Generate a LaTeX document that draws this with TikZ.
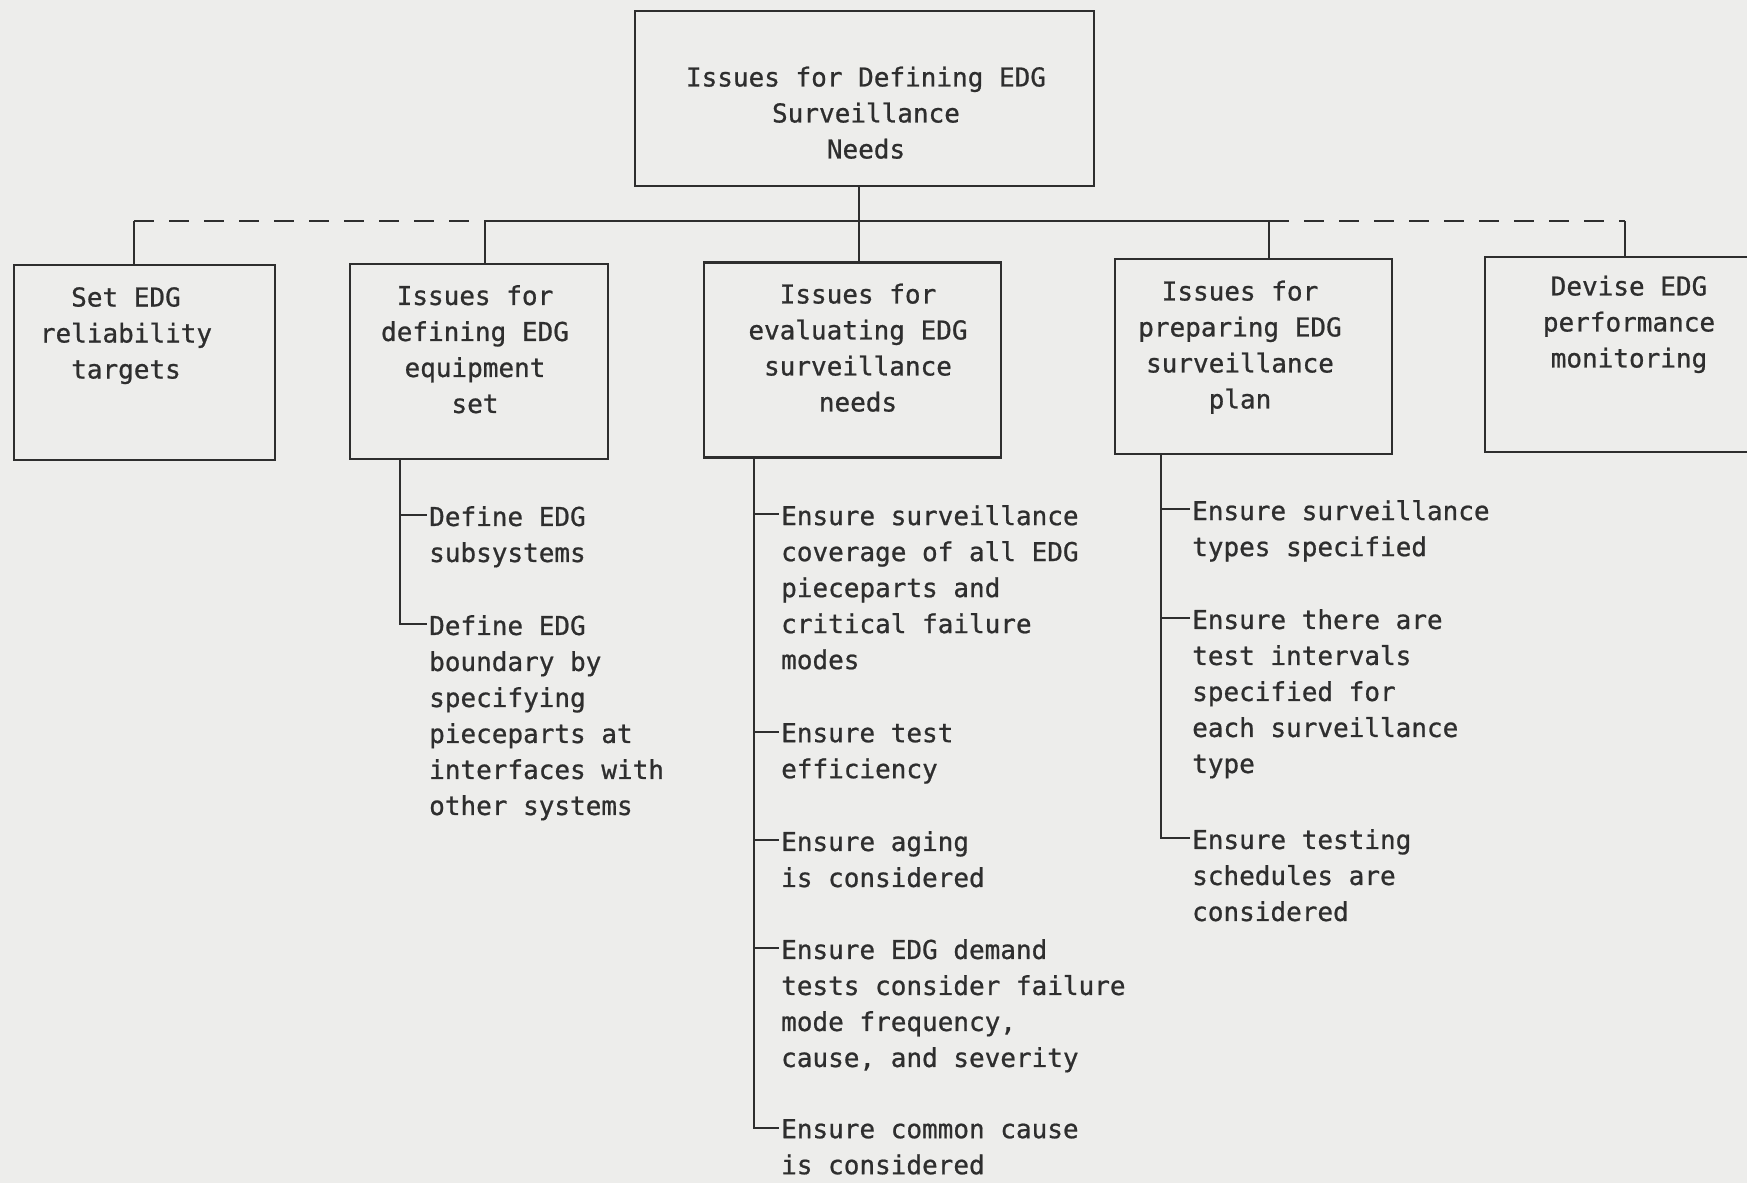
\documentclass[tikz,border=0pt]{standalone}
\usepackage{fontspec}
\setmonofont[FakeBold=0.8]{DejaVu Sans Mono}
\usepackage{tikz}
\usetikzlibrary{calc}

\definecolor{paper}{HTML}{EDEDEB}
\definecolor{ink}{HTML}{2E2E2E}

\tikzset{
  box/.style={draw=ink, line width=2.5pt, minimum height=195pt, inner sep=0pt},
  boxtxt/.style={anchor=north, align=center, inner sep=0pt, text=ink,
    font=\ttfamily\fontsize{26}{36}\selectfont},
  item/.style={anchor=north west, align=left, inner sep=0pt, text=ink,
    font=\ttfamily\fontsize{26}{36}\selectfont},
  link/.style={draw=ink, line width=2.5pt},
  dashlink/.style={link, dash pattern=on 20pt off 15pt}
}

\begin{document}
\begin{tikzpicture}[x=1pt,y=-1pt]
\clip (0,0) rectangle (1747,1183);
\fill[paper] (0,0) rectangle (1747,1183);

% boxes
\node[box, minimum width=459pt, minimum height=175pt] (tbox) at (864.5,98.5) {};
\node[box, minimum width=261pt] (set) at (144.5,362.5) {};
\node[box, minimum width=258pt] (equip) at (479,361.5) {};
\node[box, minimum width=297pt] (eval) at (852.5,360) {};
\node[box, minimum width=277pt] (plan) at (1253.5,356.5) {};
\node[box, minimum width=305pt] (monit) at (1637.5,354.5) {};

\node[boxtxt] (tboxtxt) at (866,66.5) {Issues for Defining EDG\\Surveillance\\Needs};
\node[boxtxt] (settxt) at (126,287) {Set EDG\\reliability\\targets};
\node[boxtxt] (equiptxt) at (475,285) {Issues for\\defining EDG\\equipment\\set};
\node[boxtxt] (evaltxt) at (858,283.5) {Issues for\\evaluating EDG\\surveillance\\needs};
\node[boxtxt] (plantxt) at (1240,280.5) {Issues for\\preparing EDG\\surveillance\\plan};
\node[boxtxt] (monittxt) at (1629,275.5) {Devise EDG\\performance\\monitoring};

% spine
\coordinate (j1) at (134,221);
\coordinate (j2) at (485,221);
\coordinate (j3) at (859,221);
\coordinate (j4) at (1269,221);
\coordinate (j5) at (1625,221);
\draw[link] (j3 |- tbox.south) -- (j3 |- eval.north);
\draw[dashlink] (j1) -- (j2);
\draw[link] (j2) -- (j4);
\draw[dashlink] (j4) -- (j5);
\draw[link] (j1) -- (j1 |- set.north);
\draw[link] (j2) -- (j2 |- equip.north);
\draw[link] (j4) -- (j4 |- plan.north);
\draw[link] (j5) -- (j5 |- monit.north);

% sub-items
\node[item] (eq1) at (429,506) {Define EDG\\subsystems};
\node[item] (eq2) at (429,615) {Define EDG\\boundary by\\specifying\\pieceparts at\\interfaces with\\other systems};

\node[item] (ev1) at (781,505) {Ensure surveillance\\coverage of all EDG\\pieceparts and\\critical failure\\modes};
\node[item] (ev2) at (781,723) {Ensure test\\efficiency};
\node[item] (ev3) at (781,831) {Ensure aging\\is considered};
\node[item] (ev4) at (781,939) {Ensure EDG demand\\tests consider failure\\mode frequency,\\cause, and severity};
\node[item] (ev5) at (781,1119) {Ensure common cause\\is considered};

\node[item] (pl1) at (1192,500) {Ensure surveillance\\types specified};
\node[item] (pl2) at (1192,609) {Ensure there are\\test intervals\\specified for\\each surveillance\\type};
\node[item] (pl3) at (1192,829) {Ensure testing\\schedules are\\considered};

\foreach \i in {eq1,eq2,ev1,ev2,ev3,ev4,ev5,pl1,pl2,pl3}
  \coordinate (\i t) at ($(\i.north west)+(-2,9)$);

\coordinate (s2) at ([xshift=51pt]equip.south west);
\coordinate (s3) at ([xshift=51pt]eval.south west);
\coordinate (s4) at ([xshift=47pt]plan.south west);

\draw[link] (s2) |- (eq2t);
\draw[link] (s3) |- (ev5t);
\draw[link] (s4) |- (pl3t);
\draw[link] (s2 |- eq1t) -- (eq1t);
\foreach \i in {ev1,ev2,ev3,ev4}
  \draw[link] (s3 |- \i t) -- (\i t);
\foreach \i in {pl1,pl2}
  \draw[link] (s4 |- \i t) -- (\i t);
\end{tikzpicture}
\end{document}
